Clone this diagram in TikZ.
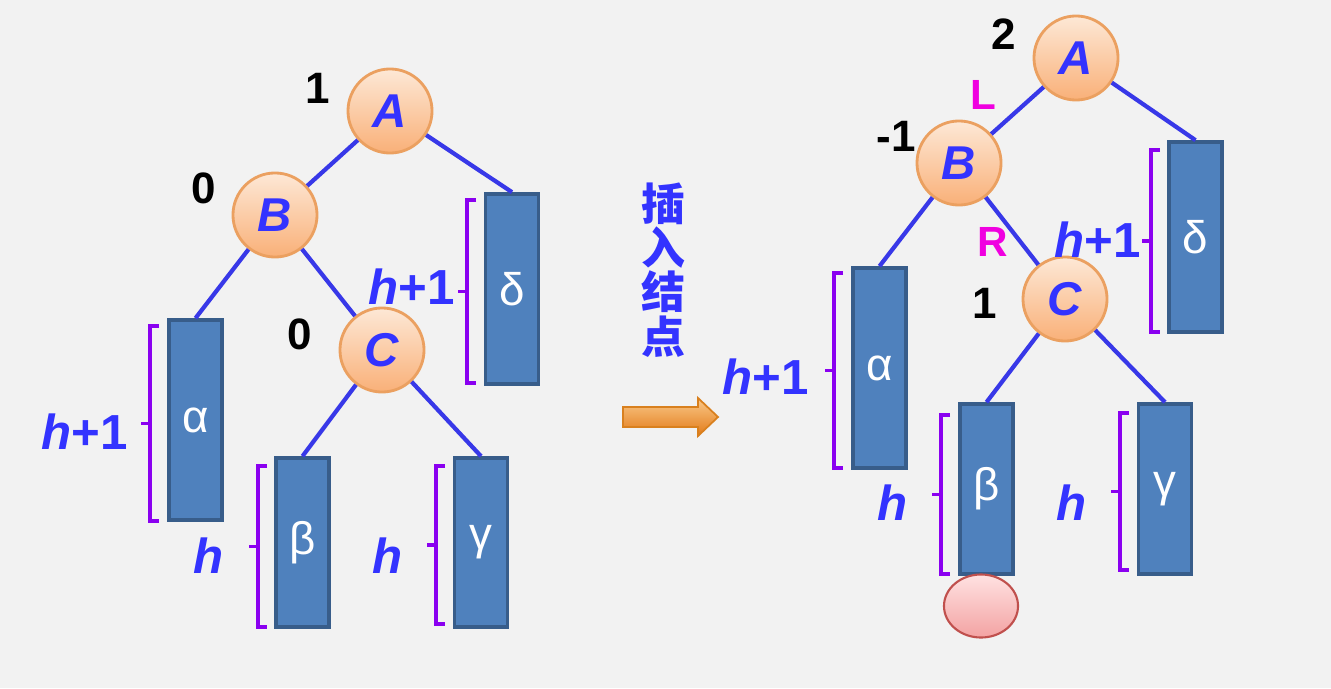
\documentclass[tikz,border=0pt]{standalone}
\usepackage{fontspec}
\setmainfont{Liberation Sans}
\newfontfamily\cjk{Noto Sans CJK SC}
\usetikzlibrary{shapes.geometric}
\definecolor{bg}{HTML}{F2F2F2}
\definecolor{txtblue}{HTML}{3333FF}
\definecolor{edgeblue}{HTML}{3838E8}
\definecolor{boxfill}{HTML}{4F81BD}
\definecolor{boxdraw}{HTML}{385D8A}
\definecolor{brk}{HTML}{8A00F0}
\definecolor{mag}{HTML}{F000E0}
\definecolor{circtop}{HTML}{FDE8D6}
\definecolor{circbot}{HTML}{F9B078}
\definecolor{circdraw}{HTML}{EBA060}
\definecolor{arrtop}{HTML}{FAC98A}
\definecolor{arrbot}{HTML}{E27A18}
\definecolor{arrdraw}{HTML}{D9801E}
\definecolor{newtop}{HTML}{FFE2E2}
\definecolor{newbot}{HTML}{F3A2A2}
\definecolor{newdraw}{HTML}{C0504D}
\begin{document}
\begin{tikzpicture}[x=0.01cm,y=-0.01cm,
  vtx/.style={circle, draw=circdraw, line width=0.8pt, top color=circtop, bottom color=circbot,
    minimum size=0.84cm, inner sep=0pt, text=txtblue,
    font=\fontsize{13.5}{13.5}\selectfont\bfseries\itshape},
  sub/.style={rectangle, draw=boxdraw, line width=1pt, fill=boxfill, minimum width=0.53cm,
    inner sep=0pt, text=white, font=\fontsize{13}{13}\selectfont},
  conn/.style={draw=edgeblue, line width=1.2pt},
  brace/.style={draw=brk, line width=1pt},
  hlab/.style={text=txtblue, inner sep=0pt, font=\fontsize{14}{14}\selectfont\bfseries},
  bal/.style={text=black, inner sep=0pt, font=\fontsize{12.5}{12.5}\selectfont\bfseries},
  dir/.style={text=mag, inner sep=0pt, font=\fontsize{12}{12}\selectfont\bfseries},
  newnode/.style={ellipse, draw=newdraw, line width=0.6pt, top color=newtop, bottom color=newbot,
    minimum width=0.74cm, minimum height=0.63cm, inner sep=0pt}
]
\fill[bg] (0,0) rectangle (1331,688);
\useasboundingbox (0,0) rectangle (1331,688);

% ---------------- left tree ----------------
\node[sub, minimum height=2cm]    (la) at (195.5,420) {α};
\node[sub, minimum height=1.69cm] (lb) at (302.5,542.5) {β};
\node[sub, minimum height=1.69cm] (lg) at (481,542.5) {γ};
\node[sub, minimum height=1.9cm]  (ld) at (512,289) {δ};

\node[vtx] (lA) at (390,111) {A};
\node[vtx] (lB) at (275,215) {B};
\node[vtx] (lC) at (382,350) {C};

\path[conn] (lA) -- (lB);
\path[conn] (lA) -- (ld.north);
\path[conn] (lB) -- (la.north);
\path[conn] (lB) -- (lC);
\path[conn] (lC) -- (lb.north);
\path[conn] (lC) -- (lg.north);

\node[bal] (nA1) at (318,88) {1};
\node[bal] (nB1) at (204,188) {0};
\node[bal] (nC1) at (300,334) {0};

\draw[brace] (159,326) -- (150,326) -- (150,521) -- (159,521);
\draw[brace] (150,423.5) -- (141,423.5);
\draw[brace] (267,466) -- (258,466) -- (258,627) -- (267,627);
\draw[brace] (258,546.5) -- (249,546.5);
\draw[brace] (445,466) -- (436,466) -- (436,624) -- (445,624);
\draw[brace] (436,545) -- (427,545);
\draw[brace] (476,200) -- (467,200) -- (467,383) -- (476,383);
\draw[brace] (467,291.5) -- (458,291.5);

\node[hlab] (lha) at (85,432) {\textit{h}+1};
\node[hlab] (lhb) at (209,556) {\textit{h}};
\node[hlab] (lhg) at (388,556) {\textit{h}};
\node[hlab] (lhd) at (412,287) {\textit{h}+1};

% ---------------- middle ----------------
\node[text=txtblue, inner sep=0pt, align=center, font=\cjk\bfseries\fontsize{12.5}{12.6}\selectfont]
  (ins) at (663,270) {插\\入\\结\\点};
\shade[top color=arrtop, bottom color=arrbot, draw=arrdraw, line width=0.5pt]
  (623,407) -- (698,407) -- (698,398) -- (718,417) -- (698,436) -- (698,427) -- (623,427) -- cycle;

% ---------------- right tree ----------------
\node[sub, minimum height=2cm]   (ra) at (879.5,368) {α};
\node[sub, minimum height=1.7cm] (rb) at (986.5,489) {β};
\node[sub, minimum height=1.7cm] (rg) at (1165,489) {γ};
\node[sub, minimum height=1.9cm] (rd) at (1195.5,237) {δ};

\node[vtx] (rA) at (1076,58) {A};
\node[vtx] (rB) at (959,163) {B};
\node[vtx] (rC) at (1065,299) {C};

\path[conn] (rA) -- (rB);
\path[conn] (rA) -- (rd.north);
\path[conn] (rB) -- (ra.north);
\path[conn] (rB) -- (rC);
\path[conn] (rC) -- (rb.north);
\path[conn] (rC) -- (rg.north);

\node[newnode] (new) at (981,606) {};

\node[bal] (nA2) at (1004,34) {2};
\node[bal] (nB2) at (896,136) {-1};
\node[bal] (nC2) at (985,303) {1};
\node[dir] (dL) at (983,95) {L};
\node[dir] (dR) at (993,242) {R};

\draw[brace] (843,273) -- (834,273) -- (834,468) -- (843,468);
\draw[brace] (834,370.5) -- (825,370.5);
\draw[brace] (950,415) -- (941,415) -- (941,574) -- (950,574);
\draw[brace] (941,494.5) -- (932,494.5);
\draw[brace] (1129,413) -- (1120,413) -- (1120,570) -- (1129,570);
\draw[brace] (1120,491.5) -- (1111,491.5);
\draw[brace] (1160,150) -- (1151,150) -- (1151,332) -- (1160,332);
\draw[brace] (1151,241) -- (1142,241);

\node[hlab] (rha) at (766,377) {\textit{h}+1};
\node[hlab] (rhb) at (893,503) {\textit{h}};
\node[hlab] (rhg) at (1072,503) {\textit{h}};
\node[hlab] (rhd) at (1098,240) {\textit{h}+1};
\end{tikzpicture}
\end{document}
